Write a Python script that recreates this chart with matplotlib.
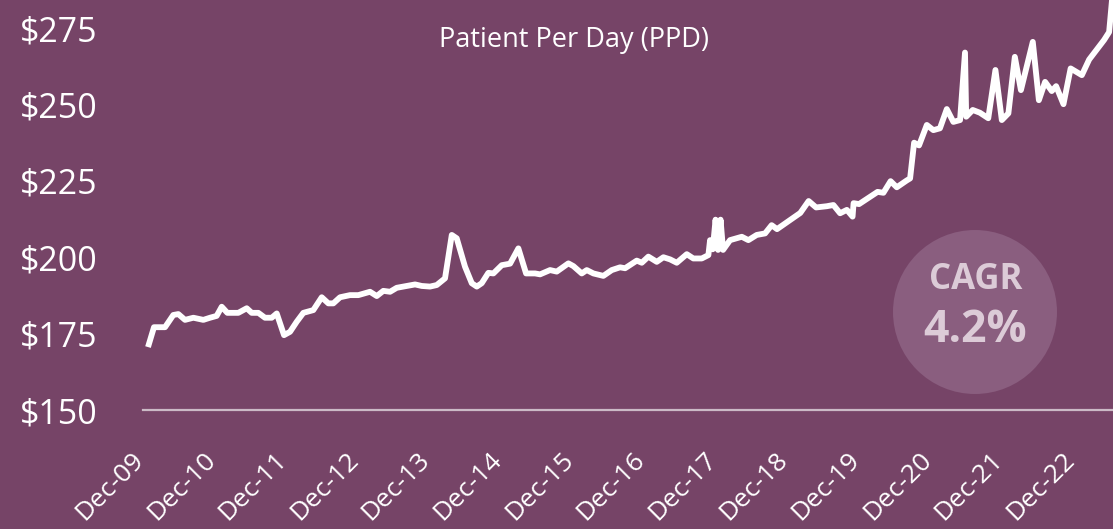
import matplotlib
matplotlib.use("Agg")
import matplotlib.pyplot as plt
from matplotlib.patches import Circle
import matplotlib.transforms as mtransforms

# ---- data (months after Dec-09, PPD in $) ----
months = [0, 1.0, 2.85, 4.24, 5.08, 6.2, 7.6, 9.27, 10.39, 11.5,
          12.35, 13.29, 15.13, 16.54, 17.38, 18.49, 19.6, 20.73, 21.57, 22.79,
          23.8, 24.92, 26.03, 27.7, 29.11, 30.22, 31.05, 32.18, 33.85, 35.24,
          37.2, 38.33, 39.43, 40.56, 41.68, 43.35, 44.75, 45.87, 47.26, 48.38,
          49.77, 50.9, 51.73, 53.12, 54.25, 55.09, 55.92, 57.03, 57.87, 59.28,
          60.67, 62.06, 63.35, 64.86, 65.7, 67.37, 68.49, 70.44, 71.28, 72.68,
          73.52, 74.63, 76.3, 77.71, 79.1, 79.94, 81.9, 82.74, 83.84, 85.25,
          86.36, 87.48, 88.6, 90.28, 91.38, 92.79, 93.9, 94.18, 94.63, 95.1,
          95.52, 95.94, 96.36, 97.53, 99.5, 100.6, 102.0, 103.4, 104.5, 105.4,
          109.3, 110.7, 111.95, 113.74, 114.85, 115.97, 117.1, 118.06, 118.23, 119.15,
          122.25, 123.23, 124.43, 125.47, 127.11, 127.7, 128.37, 129.2, 130.5, 131.6,
          132.7, 133.85, 134.95, 136.07, 136.9, 137.1, 138.2, 139.4, 140.8, 142.0,
          143.07, 144.17, 145.25, 146.27, 148.26, 149.28, 150.32, 151.44, 152.17, 153.4,
          154.6, 156.48, 157.7, 160.2, 161.05, 161.8]

ppd = [170.6, 177.1, 177.1, 181.1, 181.4, 179.5, 180.2, 179.5, 180.2, 180.8,
       183.8, 181.8, 181.8, 183.3, 181.8, 181.8, 180.2, 180.2, 181.6, 174.5,
       175.6, 178.9, 181.8, 182.7, 186.9, 184.9, 184.9, 186.9, 187.6, 187.6,
       188.7, 187.3, 189.0, 188.7, 190.0, 190.6, 191.1, 190.6, 190.4, 190.9,
       193.1, 207.3, 206.2, 196.9, 191.5, 190.4, 191.5, 194.9, 194.7, 197.4,
       197.9, 202.9, 194.7, 194.7, 194.4, 195.8, 195.3, 198.0, 197.1, 194.7,
       195.8, 194.7, 193.9, 195.8, 196.7, 196.4, 198.9, 198.2, 200.2, 198.5,
       200.0, 199.3, 198.2, 201.0, 199.6, 199.6, 200.7, 205.6, 202.6, 212.3,
       202.4, 212.3, 202.4, 205.6, 206.7, 205.6, 207.3, 207.8, 210.5, 209.2,
       214.5, 218.4, 216.3, 216.7, 217.1, 214.4, 215.5, 213.3, 217.7, 217.4,
       221.4, 221.1, 224.9, 222.9, 225.1, 225.8, 237.5, 236.6, 243.3, 241.6,
       242.2, 248.5, 244.3, 244.9, 267.0, 246.0, 248.2, 247.3, 245.5, 261.3,
       244.9, 247.1, 265.6, 254.7, 270.5, 251.4, 257.4, 254.4, 256.0, 250.1,
       261.8, 259.6, 264.7, 271.1, 273.7, 290.0]

tick_months = [0, 12, 24, 36, 48, 60, 72, 84, 96, 108, 120, 132, 144, 156]
tick_labels = ["Dec-09", "Dec-10", "Dec-11", "Dec-12", "Dec-13", "Dec-14", "Dec-15",
               "Dec-16", "Dec-17", "Dec-18", "Dec-19", "Dec-20", "Dec-21", "Dec-22"]
y_ticks = [150, 175, 200, 225, 250, 275]
title = "Patient Per Day (PPD)"
cagr_label = "CAGR"
cagr_value = "4.2%"

# ---- style ----
BG = "#764467"
CIRCLE = "#8a5e7f"
CIRCLE_TXT = "#dccbd7"
AXIS_LINE = "#cbbac6"

plt.rcParams["font.family"] = ["Open Sans", "DejaVu Sans"]

fig = plt.figure(figsize=(11.13, 5.29), dpi=100, facecolor=BG)
ax = fig.add_axes([143 / 1113, 119 / 529, 1 - 143 / 1113, 1 - 119 / 529])
ax.set_facecolor(BG)

ax.plot(months, ppd, color="white", lw=4.2, solid_joinstyle="round",
        solid_capstyle="butt", clip_on=True)

ax.set_xlim(-0.84, 161.7)
ax.set_ylim(150, 284.2)

for s in ["top", "right", "left"]:
    ax.spines[s].set_visible(False)
ax.spines["bottom"].set_color(AXIS_LINE)
ax.spines["bottom"].set_linewidth(1.6)

ax.set_yticks(y_ticks)
ax.set_yticklabels([f"${v}" for v in y_ticks])
ax.tick_params(axis="y", length=0, pad=33, labelsize=24.5, labelcolor="white")

ax.set_xticks(tick_months)
ax.set_xticklabels(tick_labels, rotation=45, ha="right", va="center",
                   rotation_mode="anchor")
ax.tick_params(axis="x", length=0, pad=33, labelsize=19, labelcolor="white")
shift = mtransforms.ScaledTranslation(-8 / 100, 0, fig.dpi_scale_trans)
for lab in ax.get_xticklabels():
    lab.set_transform(lab.get_transform() + shift)

fig.text(574 / 1113, 1 - 40 / 529, title, ha="center", va="center",
         color="white", fontsize=19.5)

# CAGR badge
circ = Circle((9.75, (529 - 312) / 100), 0.82, transform=fig.dpi_scale_trans,
              facecolor=CIRCLE, edgecolor="none", zorder=3)
fig.patches.append(circ)
fig.text(976 / 1113, 1 - 280 / 529, cagr_label, ha="center", va="center",
         color=CIRCLE_TXT, fontsize=25, fontweight="bold", zorder=4)
fig.text(975 / 1113, 1 - 331 / 529, cagr_value, ha="center", va="center",
         color=CIRCLE_TXT, fontsize=32, fontweight="bold", zorder=4)

fig.savefig("out.png", dpi=100, facecolor=BG)
